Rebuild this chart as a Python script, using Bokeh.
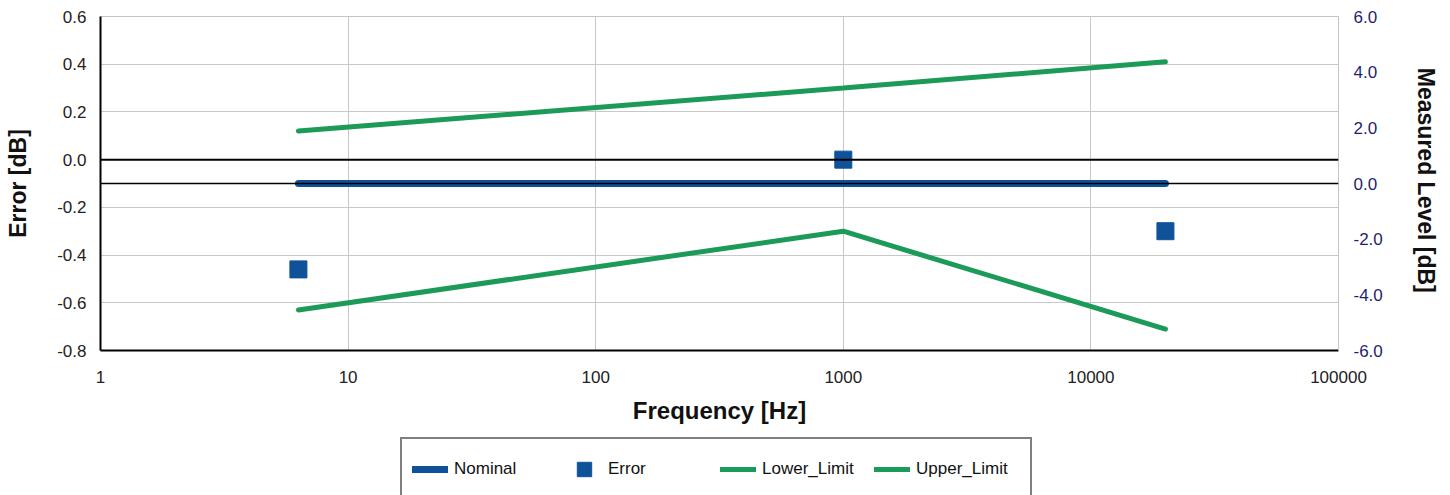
from bokeh.plotting import figure
from bokeh.layouts import column
from bokeh.models import (Range1d, LinearAxis, FixedTicker, NumeralTickFormatter,
                          Span, Legend, LegendItem, ColumnDataSource)
from bokeh.embed import file_html
from bokeh.resources import INLINE

# ---- data ----
freq = [6.3, 1000, 20000]
nominal = [0.0, 0.0, 0.0]          # right axis (Measured Level)
error = [-0.46, 0.0, -0.30]        # left axis (Error)
lower_limit = [-0.63, -0.30, -0.71]
upper_limit = [0.12, 0.30, 0.41]

x_ticks = [1, 10, 100, 1000, 10000, 100000]
left_ticks = [-0.8, -0.6, -0.4, -0.2, 0.0, 0.2, 0.4, 0.6]
right_ticks = [-6.0, -4.0, -2.0, 0.0, 2.0, 4.0, 6.0]
series_names = ["Nominal", "Error", "Lower_Limit", "Upper_Limit"]

FONT = "Liberation Sans"
BLUE = "#0f5299"
GREEN = "#1c9a58"
NAVY = "#1f1f6e"

src = ColumnDataSource(dict(freq=freq, nominal=nominal, error=error,
                            lower=lower_limit, upper=upper_limit))

W = 1450
p = figure(width=W, height=437, x_axis_type="log",
           x_range=Range1d(1, 100000), y_range=Range1d(-0.8, 0.6),
           output_backend="svg", toolbar_location=None,
           min_border_left=100, min_border_right=112,
           min_border_top=16, min_border_bottom=87)
p.extra_y_ranges = {"right": Range1d(-6.0, 6.0)}
p.background_fill_color = "white"
p.border_fill_color = "white"
p.outline_line_color = "#c4c4c4"

# grids
p.xgrid.ticker = FixedTicker(ticks=x_ticks)
p.ygrid.ticker = FixedTicker(ticks=left_ticks)
for g in (p.xgrid, p.ygrid):
    g.grid_line_color = "#c8c8c8"
    g.grid_line_width = 1

# x axis
xa = p.xaxis[0]
xa.ticker = FixedTicker(ticks=x_ticks)
xa.formatter = NumeralTickFormatter(format="0")
xa.axis_label = "Frequency [Hz]"
xa.axis_label_text_font = FONT
xa.axis_label_text_font_style = "bold"
xa.axis_label_text_font_size = "24px"
xa.axis_label_text_color = "#111111"
xa.axis_label_standoff = 11
xa.major_label_text_font = FONT
xa.major_label_text_font_size = "17px"
xa.major_label_text_color = "#222222"
xa.major_label_standoff = 20
xa.axis_line_color = "black"
xa.axis_line_width = 2
xa.major_tick_in = 0
xa.major_tick_out = 0
xa.minor_tick_line_color = None

# left axis
ya = p.yaxis[0]
ya.ticker = FixedTicker(ticks=left_ticks)
ya.formatter = NumeralTickFormatter(format="0.0")
ya.axis_label = "Error [dB]"
ya.axis_label_text_font = FONT
ya.axis_label_text_font_style = "bold"
ya.axis_label_text_font_size = "23px"
ya.axis_label_text_color = "#111111"
ya.axis_label_standoff = 23
ya.major_label_text_font = FONT
ya.major_label_text_font_size = "17px"
ya.major_label_text_color = "#222222"
ya.major_label_standoff = 14
ya.axis_line_color = "black"
ya.axis_line_width = 2
ya.major_tick_in = 0
ya.major_tick_out = 0
ya.minor_tick_line_color = None

# right axis
ra = LinearAxis(y_range_name="right")
ra.ticker = FixedTicker(ticks=right_ticks)
ra.formatter = NumeralTickFormatter(format="0.0")
ra.axis_label = "Measured Level  [dB]"
ra.axis_label_text_font = FONT
ra.axis_label_text_font_style = "bold"
ra.axis_label_text_font_size = "23px"
ra.axis_label_text_color = "#111111"
ra.axis_label_standoff = 27
ra.major_label_text_font = FONT
ra.major_label_text_font_size = "17px"
ra.major_label_text_color = NAVY
ra.major_label_standoff = 15
ra.axis_line_color = "#c4c4c4"
ra.axis_line_width = 1
ra.major_tick_in = 0
ra.major_tick_out = 0
ra.minor_tick_line_color = None
p.add_layout(ra, "right")

# zero reference lines on each axis
p.add_layout(Span(location=0.0, dimension="width", line_color="black", line_width=2))
p.add_layout(Span(location=0.0, dimension="width", y_range_name="right",
                  line_color="black", line_width=1.5))


def draw_series(fig, **extra):
    r1 = fig.line("freq", "nominal", source=src, line_color=BLUE, line_width=7,
                  line_cap="round", **extra.get("nom", {}))
    r2 = fig.scatter("freq", "error", source=src, marker="square", size=17,
                     fill_color=BLUE, line_color=BLUE)
    r3 = fig.line("freq", "lower", source=src, line_color=GREEN, line_width=5,
                  line_cap="round")
    r4 = fig.line("freq", "upper", source=src, line_color=GREEN, line_width=5,
                  line_cap="round")
    return [r1, r2, r3, r4]


draw_series(p, nom=dict(y_range_name="right"))

# ---- legend strip (separate figure under the chart; series lie outside its ranges) ----
lg = figure(width=W, height=58, output_backend="svg", toolbar_location=None,
            x_range=Range1d(-2, -1), y_range=Range1d(-2, -1), min_border=0)
lg.axis.visible = False
lg.grid.visible = False
lg.outline_line_color = None
lg.border_fill_color = "white"
lg.background_fill_color = "white"
keys = draw_series(lg)

legend = Legend(items=[LegendItem(label=n, renderers=[r]) for n, r in
                       zip(series_names, keys)],
                orientation="horizontal", location=(300, -6))
legend.label_text_font = FONT
legend.label_text_font_size = "17px"
legend.label_text_color = "#111111"
legend.glyph_width = 36
legend.glyph_height = 40
legend.label_height = 40
legend.label_width = 104
legend.label_standoff = 6
legend.spacing = 8
legend.padding = 10
legend.margin = 0
legend.border_line_color = "black"
legend.border_line_width = 2
legend.background_fill_color = "white"
legend.background_fill_alpha = 1.0
lg.add_layout(legend, "center")

layout = column(p, lg, spacing=0)
open("out.html", "w").write(file_html(layout, INLINE))
